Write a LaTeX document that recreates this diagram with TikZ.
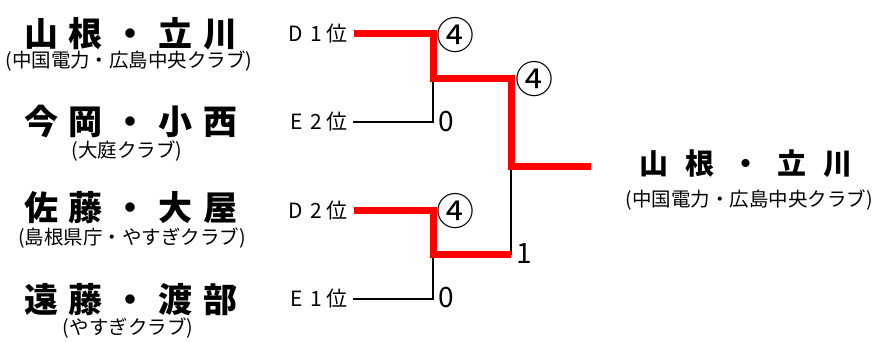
\documentclass[tikz,border=0pt]{standalone}
\usepackage{fontspec}
\setmainfont{Noto Sans CJK JP}
\newcommand\gp{\kern11pt}
\newcommand\gw{\kern17pt}
\newcommand\seed[2]{#1\kern7pt #2\kern5pt 位}
\begin{document}
\begin{tikzpicture}[x=1pt,y=-1pt,
  ttl/.style={font=\bfseries\fontsize{34}{36}\selectfont, inner sep=0pt},
  ttlw/.style={font=\bfseries\fontsize{29}{31}\selectfont, inner sep=0pt},
  sub/.style={font=\fontsize{19.5}{21}\selectfont, inner sep=0pt},
  lbl/.style={font=\fontsize{21}{23}\selectfont, inner sep=0pt, anchor=east},
  score/.style={font=\fontsize{28}{30}\selectfont, inner sep=0pt},
  circ/.style={font=\fontsize{38}{40}\selectfont, inner sep=0pt},
  win/.style={line width=7pt, red, line join=miter},
  lose/.style={line width=2pt, black}]
\useasboundingbox (0,0) rectangle (873,342);
% left names
\node[ttl] (t1) at (131,34) {山\gp 根\gp ・\gp 立\gp 川};
\node[sub] (s1) at (129,61) {(中国電力・広島中央クラブ)};
\node[ttl] (t2) at (131,121) {今\gp 岡\gp ・\gp 小\gp 西};
\node[sub] (s2) at (127,151) {(大庭クラブ)};
\node[ttl] (t3) at (131,208) {佐\gp 藤\gp ・\gp 大\gp 屋};
\node[sub] (s3) at (132,238) {(島根県庁・やすぎクラブ)};
\node[ttl] (t4) at (131,300) {遠\gp 藤\gp ・\gp 渡\gp 部};
\node[sub] (s4) at (128,328) {(やすぎクラブ)};
% seeds
\node[lbl] (D1) at (348,33.5) {\seed{D}{1}};
\node[lbl] (E2) at (348,122) {\seed{E}{2}};
\node[lbl] (D2) at (348,210.5) {\seed{D}{2}};
\node[lbl] (E1) at (348,298.5) {\seed{E}{1}};
% junctions
\coordinate (a1) at (433,33.5);
\coordinate (a2) at (433,122);
\coordinate (m1) at (433,78.5);
\coordinate (r1) at (511,78.5);
\coordinate (a3) at (433,210.5);
\coordinate (a4) at (433,298.5);
\coordinate (m2) at (433,254.5);
\coordinate (r2) at (511,254.5);
\coordinate (c) at (511,166.5);
\coordinate (fin) at (591,166.5);
% losing lines
\draw[lose] ([xshift=5]E2.east) -- (a2) -- (m1);
\draw[lose] ([xshift=5]E1.east) -- (a4) -- (m2);
\draw[lose] (r2) -- (c);
% winning lines
\draw[win] ([xshift=6]D1.east) -- (a1) -- (m1) -- (r1) -- (c) -- (fin);
\draw[win] ([xshift=6]D2.east) -- (a3) -- (m2) -- (r2);
% scores
\node[circ] (sc1) at (455,35) {④};
\node[score] (sc2) at (446,122) {0};
\node[circ] (sc3) at (534,79) {④};
\node[circ] (sc4) at (455,211) {④};
\node[score] (sc5) at (446,298) {0};
\node[score] (sc6) at (524,254) {1};
% winner
\node[ttlw] (w) at (746,164) {山\gw 根\gw ・\gw 立\gw 川};
\node[sub] (ws) at (749,200) {(中国電力・広島中央クラブ)};
\end{tikzpicture}
\end{document}
